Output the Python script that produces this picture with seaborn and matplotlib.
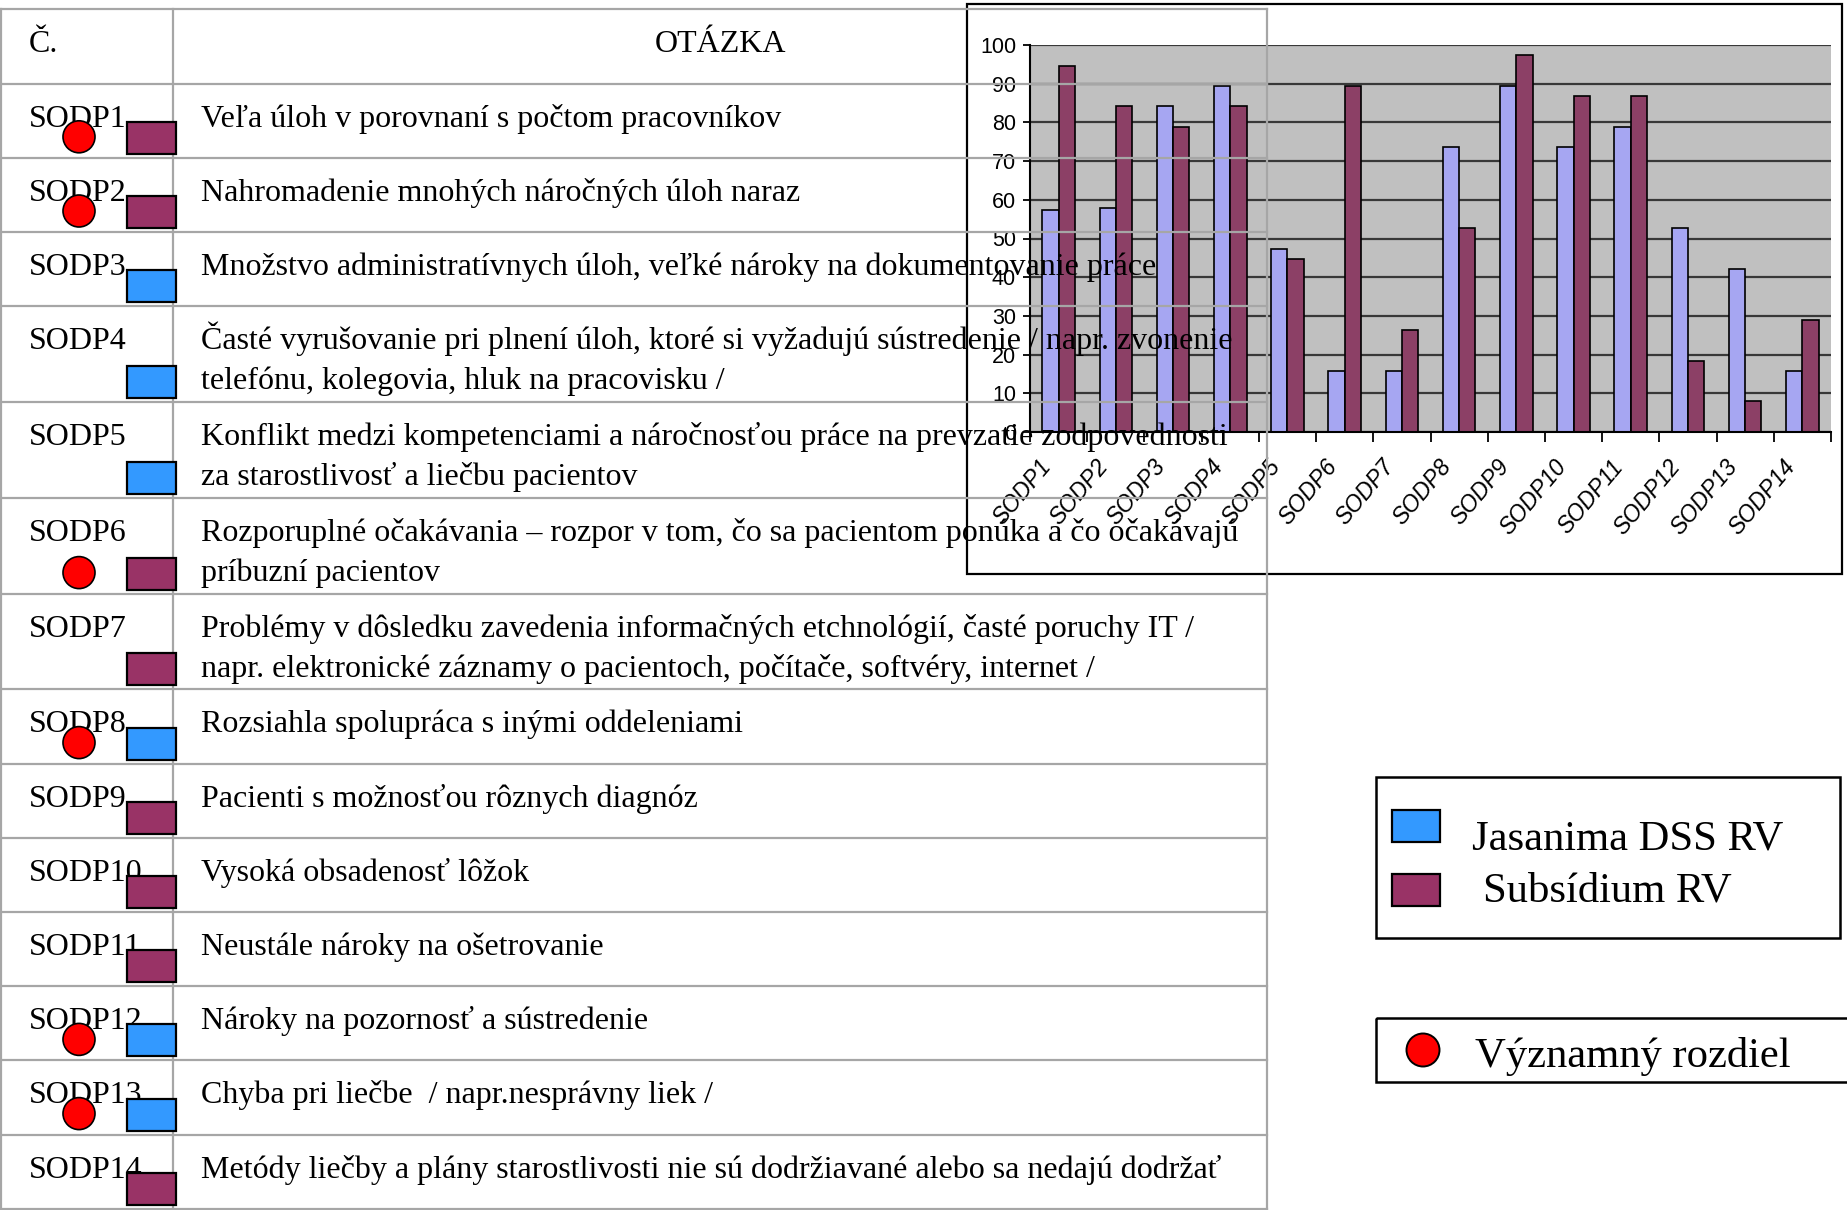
import numpy as np
import pandas as pd
import matplotlib
matplotlib.use('Agg')
import matplotlib.pyplot as plt
from matplotlib.patches import Rectangle, Circle
import seaborn as sns

W, H = 1847, 1210

# data (% of respondents)
otazky = ['SODP1', 'SODP2', 'SODP3', 'SODP4', 'SODP5', 'SODP6', 'SODP7',
          'SODP8', 'SODP9', 'SODP10', 'SODP11', 'SODP12', 'SODP13', 'SODP14']
jasanima = [57.3, 57.9, 84.2, 89.5, 47.4, 15.8, 15.8, 73.7, 89.5, 73.7, 78.9, 52.6, 42.1, 15.8]
subsidium = [94.7, 84.2, 78.9, 84.2, 44.7, 89.5, 26.3, 52.6, 97.4, 86.8, 86.8, 18.4, 7.9, 28.9]
skupiny = ['Jasanima DSS RV', 'Subsídium RV']
vyznamne = ['SODP1', 'SODP2', 'SODP6', 'SODP8', 'SODP12', 'SODP13']

popisy = [
    'Veľa úloh v porovnaní s počtom pracovníkov',
    'Nahromadenie mnohých náročných úloh naraz',
    'Množstvo administratívnych úloh, veľké nároky na dokumentovanie práce',
    'Časté vyrušovanie pri plnení úloh, ktoré si vyžadujú sústredenie / napr. zvonenie\n'
    'telefónu, kolegovia, hluk na pracovisku /',
    'Konflikt medzi kompetenciami a náročnosťou práce na prevzatie zodpovednosti\n'
    'za starostlivosť a liečbu pacientov',
    'Rozporuplné očakávania – rozpor v tom, čo sa pacientom ponúka a čo očakávajú\n'
    'príbuzní pacientov',
    'Problémy v dôsledku zavedenia informačných etchnológií, časté poruchy IT /\n'
    'napr. elektronické záznamy o pacientoch, počítače, softvéry, internet /',
    'Rozsiahla spolupráca s inými oddeleniami',
    'Pacienti s možnosťou rôznych diagnóz',
    'Vysoká obsadenosť lôžok',
    'Neustále nároky na ošetrovanie',
    'Nároky na pozornosť a sústredenie',
    'Chyba pri liečbe  / napr.nesprávny liek /',
    'Metódy liečby a plány starostlivosti nie sú dodržiavané alebo sa nedajú dodržať',
]

bar_colors = ['#9999FF', '#993366']
legend_colors = ['#3399FF', '#993366']
serif = 'Liberation Serif'
sans = ['Liberation Sans Narrow', 'Liberation Sans']

df = pd.DataFrame({
    'otazka': otazky * 2,
    'hodnota': jasanima + subsidium,
    'skupina': [skupiny[0]] * len(otazky) + [skupiny[1]] * len(otazky),
})

fig = plt.figure(figsize=(W / 100, H / 100), dpi=100)

# ---- bar chart ----
ax = fig.add_axes([1030 / W, 1 - 432 / H, 801 / W, 387 / H], zorder=1)
sns.barplot(data=df, x='otazka', y='hodnota', hue='skupina', palette=bar_colors,
            width=0.57, edgecolor='black', linewidth=1.2, errorbar=None,
            legend=False, ax=ax)
ax.set_facecolor('#C0C0C0')
ax.set_xlim(-0.5, len(otazky) - 0.5)
ax.set_ylim(0, 100)
ax.set_yticks(range(0, 101, 10))
ax.yaxis.grid(True, color='#383838', lw=1.6)
ax.set_axisbelow(True)
ax.set_xlabel('')
ax.set_ylabel('')
for s in ['top', 'right']:
    ax.spines[s].set_visible(False)
for s in ['left', 'bottom']:
    ax.spines[s].set_color('black')
    ax.spines[s].set_linewidth(1.5)
# labels sit a little left of the category centre, as in the original
ax.set_xticks(np.arange(len(otazky)) - 0.2)
ax.set_xticklabels(otazky, rotation=50, ha='right', va='center', rotation_mode='anchor',
                   fontstyle='italic', fontsize=16.5, family=sans)
ax.set_xticks(np.arange(-0.5, len(otazky), 1), minor=True)
ax.tick_params(axis='x', which='major', length=0, pad=22)
ax.tick_params(axis='x', which='minor', length=7, width=1.3, color='black')
ax.tick_params(axis='y', length=5, width=1.3, color='black', pad=5)
for t in ax.get_yticklabels():
    t.set_family(sans)
    t.set_fontsize(15.5)

# ---- overlay in pixel coordinates: table, frames, legends ----
ov = fig.add_axes([0, 0, 1, 1], zorder=3)
ov.set_xlim(0, W)
ov.set_ylim(H, 0)
ov.axis('off')
ov.patch.set_alpha(0)

# chart frame
ov.add_patch(Rectangle((967, 4), 875, 570, fill=False, ec='black', lw=1.6, zorder=1))

grid_c = '#A6A6A6'
tab_l, tab_r, col_x, tab_top = 1, 1267, 173, 9
row_1 = 74.2
row_extra = 21.6
fs = 23

# header
y = tab_top
ov.plot([tab_l, tab_r], [y, y], color=grid_c, lw=1.6, zorder=2)
ov.text(29, y + 43, 'Č.', family=serif, fontsize=fs, va='baseline', zorder=4)
ov.text((col_x + tab_r) / 2, y + 43, 'OTÁZKA', family=serif, fontsize=fs,
        va='baseline', ha='center', zorder=4)
y += row_1 + 0.4
ov.plot([tab_l, tab_r], [y, y], color=grid_c, lw=1.6, zorder=2)

for kod, popis, a, b in zip(otazky, popisy, jasanima, subsidium):
    lines = popis.split('\n')
    h = row_1 + row_extra * (len(lines) - 1)
    ov.text(29, y + 43, kod, family=serif, fontsize=fs, va='baseline', zorder=4)
    for i, ln in enumerate(lines):
        ov.text(201, y + 43 + 40 * i, ln, family=serif, fontsize=fs, va='baseline', zorder=4)
    bottom = y + h
    # square in the colour of the group with the higher value
    c = legend_colors[0] if a > b else legend_colors[1]
    ov.add_patch(Rectangle((127, bottom - 36), 49, 32, fc=c, ec='black', lw=1.6, zorder=5))
    if kod in vyznamne:
        ov.add_patch(Circle((79, bottom - 21), 16, fc='#FF0000', ec='black', lw=1.2, zorder=6))
    y = bottom
    ov.plot([tab_l, tab_r], [y, y], color=grid_c, lw=1.6, zorder=2)

ov.plot([tab_l, tab_l], [tab_top, y], color=grid_c, lw=1.6, zorder=2)
ov.plot([col_x, col_x], [tab_top, y], color=grid_c, lw=1.6, zorder=2)
ov.plot([tab_r, tab_r], [tab_top, y], color=grid_c, lw=1.6, zorder=2)

# legend boxes
ov.add_patch(Rectangle((1376, 777), 464, 161, fill=False, ec='black', lw=1.8))
for i, (lab, c) in enumerate(zip(skupiny, legend_colors)):
    ov.add_patch(Rectangle((1392, 810 + 64 * i), 48, 32, fc=c, ec='black', lw=1.6))
    ov.text(1472 + 11 * i, 849 + 52 * i, lab, family=serif, fontsize=30.7, va='baseline')

ov.add_patch(Rectangle((1376, 1018), 500, 64, fill=False, ec='black', lw=1.8))
ov.add_patch(Circle((1423, 1050), 16.5, fc='#FF0000', ec='black', lw=1.4))
ov.text(1475, 1067, 'Významný rozdiel', family=serif, fontsize=30.7, va='baseline')

fig.savefig('out.png', dpi=100)
